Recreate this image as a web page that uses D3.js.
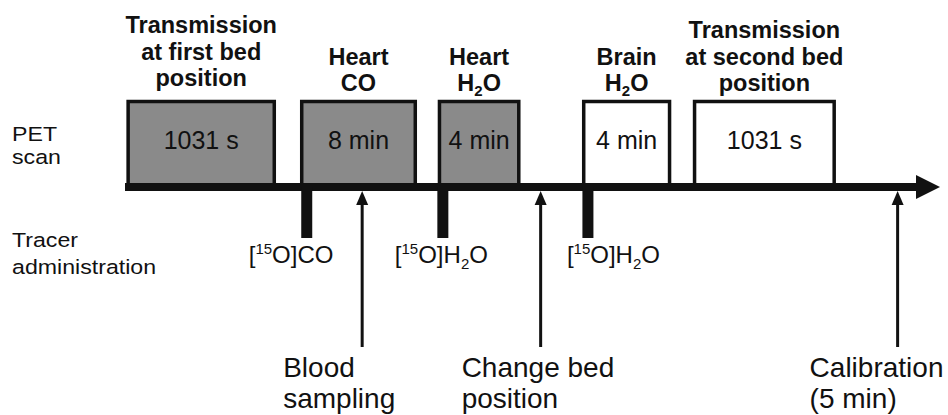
<!DOCTYPE html>
<html>
<head>
<meta charset="utf-8">
<script src="https://cdn.jsdelivr.net/npm/d3@7"></script>
<style>
  body { margin: 0; background: #fff; }
  text { font-family: "Liberation Sans", Arial, sans-serif; fill: #111; }
</style>
</head>
<body>
<script>
// schematic timeline, positions in arbitrary time units (0..100)
let scanNames = ["Transmission first", "Heart CO", "Heart H2O", "Brain H2O", "Transmission second"];
let scanStart = [0.2, 21.5, 38.4, 56.1, 69.7];
let scanEnd = [18.5, 35.8, 48.5, 67.0, 87.2];
let scanDuration = ["1031 s", "8 min", "4 min", "4 min", "1031 s"];
let scanFilled = [true, true, true, false, false];
let scanTitles = [
  ["Transmission", "at first bed", "position"],
  ["Heart", "CO"],
  ["Heart", "H|2|O"],
  ["Brain", "H|2|O"],
  ["Transmission", "at second bed", "position"]
];

let tracerTimes = [22.3, 39.0, 56.8];
let tracerLabels = ["CO", "H2O", "H2O"];

let eventTimes = [29.1, 51.0, 94.8];
let eventLabels = [["Blood", "sampling"], ["Change bed", "position"], ["Calibration", "(5 min)"]];

let width = 948, height = 415;
let margin = {left: 125, right: 8};

let x = d3.scaleLinear().domain([0, 100]).range([margin.left, width - margin.right]);

let axisY = 187;
let boxTop = 100;

let svg = d3.select("body").append("svg")
    .attr("width", width)
    .attr("height", height);

// row labels (a bit wide, like the original lettering)
let rowLabels = svg.append("g").attr("font-size", 20.5);
[["PET", 141], ["scan", 164], ["Tracer", 247], ["administration", 274]].forEach(function (d) {
    rowLabels.append("text")
        .attr("transform", "translate(12," + d[1] + ") scale(1.13,1)")
        .text(d[0]);
});

// scan boxes
let boxes = svg.append("g");
scanNames.forEach(function (name, i) {
    let x0 = x(scanStart[i]), x1 = x(scanEnd[i]);
    boxes.append("rect")
        .attr("x", x0 + 1.5)
        .attr("y", boxTop + 1.5)
        .attr("width", x1 - x0 - 3)
        .attr("height", axisY - boxTop - 3)
        .attr("fill", scanFilled[i] ? "#8a8a8a" : "#fff")
        .attr("stroke", "#111")
        .attr("stroke-width", 3.5);
    boxes.append("text")
        .attr("x", (x0 + x1) / 2)
        .attr("y", 149)
        .attr("text-anchor", "middle")
        .attr("font-size", 25)
        .text(scanDuration[i]);

    // bold titles, last line sits right above the box
    let lines = scanTitles[i];
    let lastBase = i === 0 ? 86 : 91;
    lines.forEach(function (line, j) {
        let t = boxes.append("text")
            .attr("x", (x0 + x1) / 2)
            .attr("y", lastBase - (lines.length - 1 - j) * 26.5)
            .attr("text-anchor", "middle")
            .attr("font-size", 23.5)
            .attr("font-weight", "bold");
        let parts = line.split("|");
        if (parts.length === 1) {
            t.text(line);
        } else {
            t.append("tspan").text(parts[0]);
            t.append("tspan").attr("font-size", 15).attr("dy", 5).text(parts[1]);
            t.append("tspan").attr("dy", -5).text(parts[2]);
        }
    });
});

// time axis with arrow head
svg.append("line")
    .attr("x1", x(0))
    .attr("x2", x(100) - 20)
    .attr("y1", axisY)
    .attr("y2", axisY)
    .attr("stroke", "#111")
    .attr("stroke-width", 8);
svg.append("path")
    .attr("d", d3.line()([[x(100) - 24, axisY - 12], [x(100), axisY], [x(100) - 24, axisY + 12]]) + "Z")
    .attr("fill", "#111");

// tracer administration bars
let labelStart = [-58, -48, -21];
let tracers = svg.append("g");
tracerTimes.forEach(function (t, i) {
    tracers.append("rect")
        .attr("x", x(t) - 5.5)
        .attr("y", axisY)
        .attr("width", 11)
        .attr("height", 51)
        .attr("fill", "#111");
    let lbl = tracers.append("text")
        .attr("x", x(t) + labelStart[i])
        .attr("y", 263)
        .attr("font-size", 24);
    lbl.append("tspan").text("[");
    lbl.append("tspan").attr("font-size", 15).attr("dy", -9).text("15");
    lbl.append("tspan").attr("dy", 9).text("O]");
    if (tracerLabels[i] === "CO") {
        lbl.append("tspan").text("CO");
    } else {
        lbl.append("tspan").text("H");
        lbl.append("tspan").attr("font-size", 15).attr("dy", 6).text("2");
        lbl.append("tspan").attr("dy", -6).text("O");
    }
});

// event arrows
let events = svg.append("g");
eventTimes.forEach(function (t, i) {
    let cx = x(t);
    events.append("line")
        .attr("x1", cx).attr("x2", cx)
        .attr("y1", 200).attr("y2", 347)
        .attr("stroke", "#111")
        .attr("stroke-width", 3);
    events.append("path")
        .attr("d", d3.line()([[cx - 6, 205], [cx, 191], [cx + 6, 205]]) + "Z")
        .attr("fill", "#111");
    eventLabels[i].forEach(function (line, j) {
        events.append("text")
            .attr("x", i === 2 ? cx - 88 : cx - 79)
            .attr("y", 377 + j * 31)
            .attr("font-size", 28)
            .text(line);
    });
});
</script>
</body>
</html>
